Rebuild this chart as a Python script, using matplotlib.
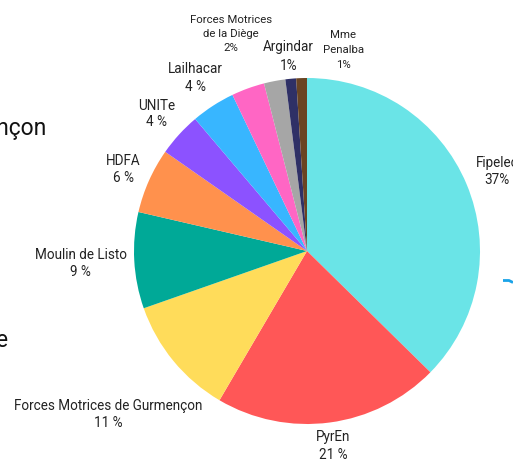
import numpy as np
import matplotlib
matplotlib.use("Agg")
import matplotlib.pyplot as plt

plt.rcParams['font.family'] = ['Roboto', 'DejaVu Sans']

# ---- data ----
categories = ["Fipelec", "PyrEn", "Forces Motrices de Gurmençon", "Moulin de Listo",
              "HDFA", "UNITe", "Lailhacar", "", "Forces Motrices\nde la Diège",
              "Argindar", "Mme\nPenalba"]
values = [37.4, 21.1, 11.2, 9.0, 6.1, 4.1, 4.1, 3.1, 2.0, 1.0, 1.0]
pct_labels = ["37%", "21 %", "11 %", "9 %", "6 %", "4 %", "4 %", None, "2%", "1%", "1%"]
colors = ["#6ae4e7", "#ff5757", "#ffdc5a", "#00a997", "#ff914d", "#8c52ff",
          "#38b6ff", "#ff66c4", "#a6a6a6", "#2f3066", "#6a4422"]

# ---- layout (label placement relative to wedge mid-angle) ----
label_angle_offset = [0, 0, 0, 0, 0, 0, 0, 0, -8.5, 0, 12]
label_dist = [1.19, 1.136, 1.486, 1.31, 1.16, 1.175, 1.19, 0, 1.33, 1.13, 1.18]
label_size = [9.75, 9.75, 9.75, 9.75, 9.75, 9.75, 9.75, 0, 8.2, 9.75, 8.2]
label_spacing = [1.34, 1.34, 1.34, 1.34, 1.3, 1.25, 1.34, 0, 1.47, 1.4, 1.6]

W, H = 513, 459
fig = plt.figure(figsize=(W / 100, H / 100), dpi=100)
ax = fig.add_axes([0, 0, 1, 1])

cx, cy, R = 307, H - 251, 173
wedges, _ = ax.pie(values, colors=colors, startangle=90, counterclock=False,
                   center=(cx, cy), radius=R,
                   wedgeprops=dict(linewidth=0))
ax.set_xlim(0, W)
ax.set_ylim(0, H)
ax.set_aspect('equal')
ax.axis('off')

total = sum(values)
cum = 0.0
for i, v in enumerate(values):
    mid = (cum + v / 2) / total * 360.0  # clockwise from top
    cum += v
    if pct_labels[i] is None:
        continue
    a = np.deg2rad(mid + label_angle_offset[i])
    d = label_dist[i] * R
    x = cx + d * np.sin(a)
    y = cy + d * np.cos(a)
    ax.text(x, y, f"{categories[i]}\n{pct_labels[i]}", ha='center', va='center',
            fontsize=label_size[i], color='#222222', linespacing=label_spacing[i],
            multialignment='center')

# fragments of overlapping content at the edges
fig.text(47 / W, 1 - 135 / H, "Gurmençon", ha='right', va='baseline',
         fontsize=16.5, color='#111111')
fig.text(8 / W, 1 - 347 / H, "e", ha='right', va='baseline',
         fontsize=16.5, color='#111111')
ax.plot([503, 509, 513], [H - 280.5, H - 280.5, H - 282.5], color='#1aa3e8',
        lw=2, solid_capstyle='butt', clip_on=False)

fig.savefig("out.png", dpi=100)
